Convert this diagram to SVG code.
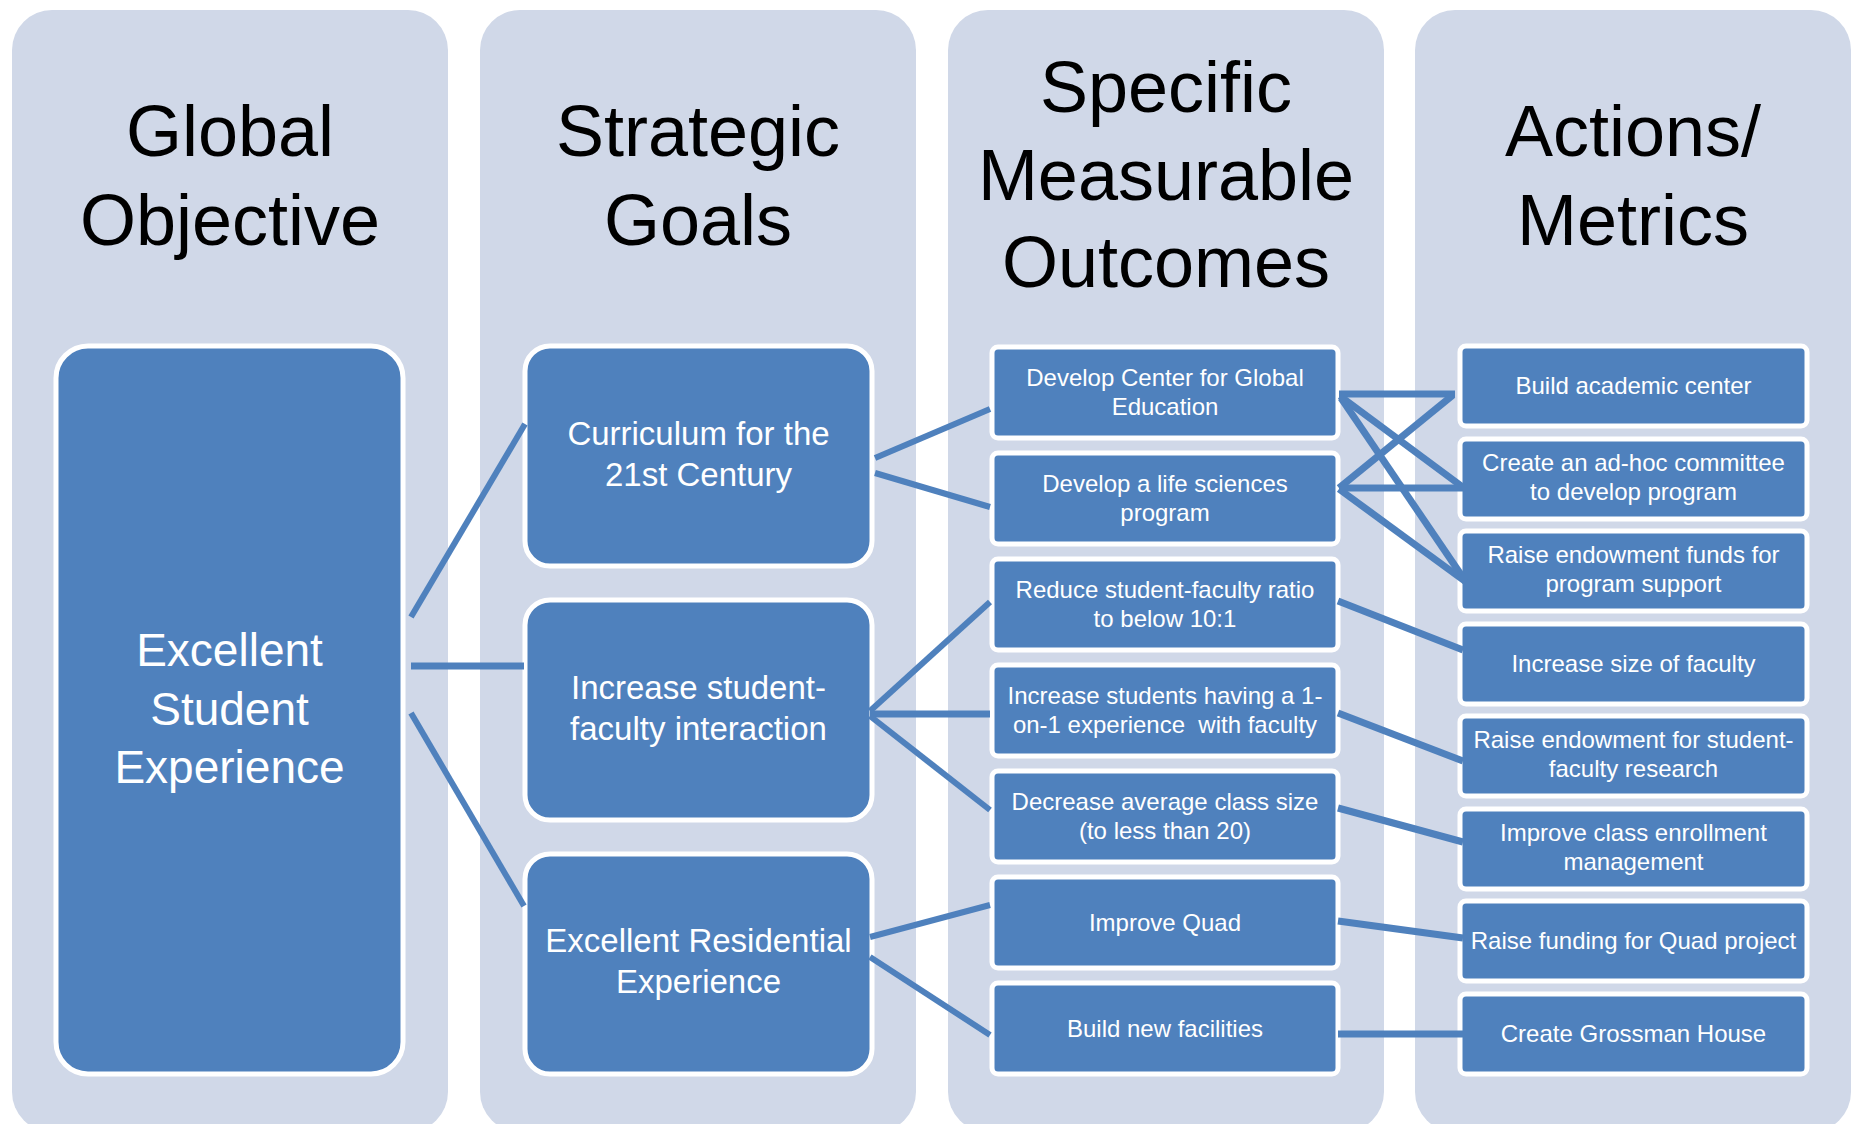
<svg xmlns="http://www.w3.org/2000/svg" width="1851" height="1124" viewBox="0 0 1851 1124">
<style>
.col{fill:#D0D8E8}
.title{font-family:"Liberation Sans",Arial,sans-serif;font-size:72px;fill:#000;text-anchor:middle}
.n{fill:#4F81BD;stroke:#fff;stroke-width:5}
.t{font-family:"Liberation Sans",Arial,sans-serif;fill:#fff;text-anchor:middle}
.big{font-size:46px}
.mid{font-size:33px}
.sm{font-size:24px}
.c1{stroke:#4F81BD;stroke-width:6;fill:none}
.c2{stroke:#4F81BD;stroke-width:7;fill:none}
</style>
<rect width="1851" height="1124" fill="#fff"/>
<g id="columns">
<rect class="col" x="12" y="10" width="436" height="1122" rx="40"/>
<rect class="col" x="480" y="10" width="436" height="1122" rx="40"/>
<rect class="col" x="948" y="10" width="436" height="1122" rx="40"/>
<rect class="col" x="1415" y="10" width="436" height="1122" rx="40"/>
</g>
<g id="titles">
<text class="title" x="230" y="156">Global</text>
<text class="title" x="230" y="245">Objective</text>
<text class="title" x="698" y="156">Strategic</text>
<text class="title" x="698" y="245">Goals</text>
<text class="title" x="1166" y="112">Specific</text>
<text class="title" x="1166" y="200">Measurable</text>
<text class="title" x="1166" y="287">Outcomes</text>
<text class="title" x="1633" y="156">Actions/</text>
<text class="title" x="1633" y="245">Metrics</text>
</g>
<g id="node-global">
<rect class="n" x="56" y="346" width="347" height="728" rx="32"/>
<text class="t big" x="229.5" y="666">Excellent</text>
<text class="t big" x="229.5" y="725">Student</text>
<text class="t big" x="229.5" y="783">Experience</text>
</g>
<g id="node-curriculum">
<rect class="n" x="525" y="346" width="347" height="220" rx="25"/>
<text class="t mid" x="698.5" y="445">Curriculum for the</text>
<text class="t mid" x="698.5" y="486">21st Century</text>
</g>
<g id="node-interaction">
<rect class="n" x="525" y="600" width="347" height="220" rx="25"/>
<text class="t mid" x="698.5" y="699">Increase student-</text>
<text class="t mid" x="698.5" y="740">faculty interaction</text>
</g>
<g id="node-residential">
<rect class="n" x="525" y="854" width="347" height="220" rx="25"/>
<text class="t mid" x="698.5" y="952">Excellent Residential</text>
<text class="t mid" x="698.5" y="993">Experience</text>
</g>
<g id="node-o1">
<rect class="n" x="992" y="347" width="346" height="91" rx="6"/>
<text class="t sm" x="1165" y="385.5">Develop Center for Global</text>
<text class="t sm" x="1165" y="414.5">Education</text>
</g>
<g id="node-o2">
<rect class="n" x="992" y="453" width="346" height="91" rx="6"/>
<text class="t sm" x="1165" y="491.5">Develop a life sciences</text>
<text class="t sm" x="1165" y="520.5">program</text>
</g>
<g id="node-o3">
<rect class="n" x="992" y="559" width="346" height="91" rx="6"/>
<text class="t sm" x="1165" y="597.5">Reduce student-faculty ratio</text>
<text class="t sm" x="1165" y="626.5">to below 10:1</text>
</g>
<g id="node-o4">
<rect class="n" x="992" y="665" width="346" height="91" rx="6"/>
<text class="t sm" x="1165" y="703.5">Increase students having a 1-</text>
<text class="t sm" x="1165" y="732.5" xml:space="preserve">on-1 experience  with faculty</text>
</g>
<g id="node-o5">
<rect class="n" x="992" y="771" width="346" height="91" rx="6"/>
<text class="t sm" x="1165" y="809.5">Decrease average class size</text>
<text class="t sm" x="1165" y="838.5">(to less than 20)</text>
</g>
<g id="node-o6">
<rect class="n" x="992" y="877" width="346" height="91" rx="6"/>
<text class="t sm" x="1165" y="930.5">Improve Quad</text>
</g>
<g id="node-o7">
<rect class="n" x="992" y="983" width="346" height="91" rx="6"/>
<text class="t sm" x="1165" y="1036.5">Build new facilities</text>
</g>
<g id="node-a1">
<rect class="n" x="1460" y="346" width="347" height="80" rx="6"/>
<text class="t sm" x="1633.5" y="394">Build academic center</text>
</g>
<g id="node-a2">
<rect class="n" x="1460" y="439" width="347" height="80" rx="6"/>
<text class="t sm" x="1633.5" y="471">Create an ad-hoc committee</text>
<text class="t sm" x="1633.5" y="500">to develop program</text>
</g>
<g id="node-a3">
<rect class="n" x="1460" y="531" width="347" height="80" rx="6"/>
<text class="t sm" x="1633.5" y="563">Raise endowment funds for</text>
<text class="t sm" x="1633.5" y="592">program support</text>
</g>
<g id="node-a4">
<rect class="n" x="1460" y="624" width="347" height="80" rx="6"/>
<text class="t sm" x="1633.5" y="672">Increase size of faculty</text>
</g>
<g id="node-a5">
<rect class="n" x="1460" y="716" width="347" height="80" rx="6"/>
<text class="t sm" x="1633.5" y="748">Raise endowment for student-</text>
<text class="t sm" x="1633.5" y="777">faculty research</text>
</g>
<g id="node-a6">
<rect class="n" x="1460" y="809" width="347" height="80" rx="6"/>
<text class="t sm" x="1633.5" y="841">Improve class enrollment</text>
<text class="t sm" x="1633.5" y="870">management</text>
</g>
<g id="node-a7">
<rect class="n" x="1460" y="901" width="347" height="80" rx="6"/>
<text class="t sm" x="1633.5" y="949">Raise funding for Quad project</text>
</g>
<g id="node-a8">
<rect class="n" x="1460" y="994" width="347" height="80" rx="6"/>
<text class="t sm" x="1633.5" y="1042">Create Grossman House</text>
</g>
<g id="connectors">
<line class="c1" x1="411" y1="617" x2="525" y2="424"/>
<line class="c2" x1="411" y1="666" x2="524" y2="666"/>
<line class="c1" x1="411" y1="713" x2="524" y2="906"/>
<line class="c1" x1="875" y1="458" x2="990" y2="409"/>
<line class="c1" x1="875" y1="473" x2="990" y2="507"/>
<line class="c1" x1="870" y1="711" x2="990" y2="602"/>
<line class="c2" x1="870" y1="714" x2="990" y2="714"/>
<line class="c1" x1="870" y1="716" x2="990" y2="810"/>
<line class="c1" x1="870" y1="937" x2="990" y2="905"/>
<line class="c1" x1="870" y1="957" x2="990" y2="1035"/>
<line class="c2" x1="1339" y1="394" x2="1455" y2="394"/>
<line class="c2" x1="1340" y1="396" x2="1464" y2="488"/>
<line class="c2" x1="1341" y1="398" x2="1466" y2="582"/>
<line class="c2" x1="1339" y1="488" x2="1453" y2="395"/>
<line class="c2" x1="1339" y1="488" x2="1466" y2="488"/>
<line class="c2" x1="1339" y1="489" x2="1466" y2="582"/>
<line class="c2" x1="1338" y1="601" x2="1463" y2="650"/>
<line class="c2" x1="1338" y1="713" x2="1463" y2="761"/>
<line class="c2" x1="1338" y1="808" x2="1463" y2="842"/>
<line class="c2" x1="1338" y1="921" x2="1463" y2="938"/>
<line class="c2" x1="1338" y1="1034" x2="1463" y2="1034"/>
</g>
</svg>
